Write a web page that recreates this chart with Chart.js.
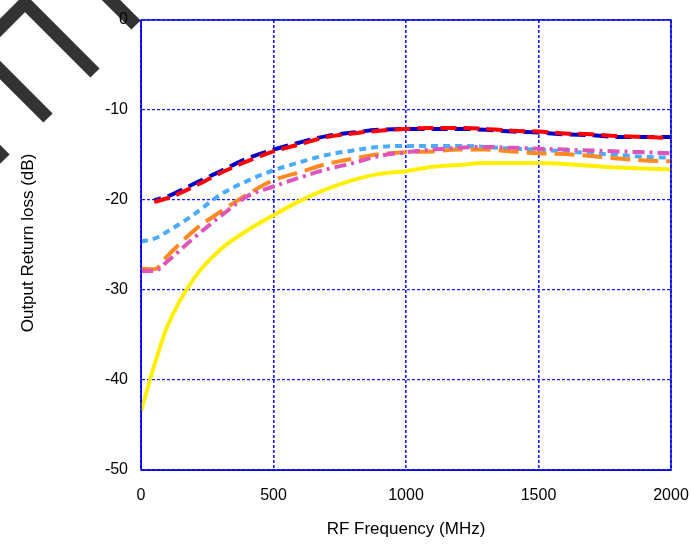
<!DOCTYPE html>
<html>
<head>
<meta charset="utf-8">
<script src="https://cdn.jsdelivr.net/npm/chart.js@4"></script>
<style>
  html, body { margin: 0; padding: 0; background: #fff; }
  #wrap { width: 691px; height: 549px; }
</style>
</head>
<body>
<div id="wrap"><canvas id="chart" width="691" height="549"></canvas></div>
<script>
// frequencies in MHz, values in dB
const freqs = [0, 50, 100, 200, 300, 400, 500, 600, 700, 800, 900, 1000, 1100, 1200, 1300, 1400, 1500, 1600, 1700, 1800, 1900, 2000];
const blueVals = [null, -20.0, -19.6, -18.2, -16.8, -15.4, -14.4, -13.6, -12.9, -12.5, -12.2, -12.1, -12.1, -12.1, -12.2, -12.4, -12.5, -12.7, -12.8, -13.0, -13.0, -13.0];
const redVals = [null, -20.2, -19.8, -18.5, -17.0, -15.7, -14.6, -13.8, -13.0, -12.6, -12.3, -12.1, -12.0, -12.0, -12.1, -12.3, -12.4, -12.6, -12.7, -12.9, -13.0, -13.1];
const skyVals = [-24.6, -24.3, -23.5, -21.6, -19.4, -17.9, -16.7, -15.8, -15.0, -14.5, -14.1, -14.0, -14.0, -14.0, -14.1, -14.3, -14.4, -14.6, -14.8, -15.0, -15.2, -15.3];
const orangeVals = [-27.6, -27.7, -26.2, -23.4, -21.3, -19.4, -17.8, -16.9, -16.0, -15.4, -14.9, -14.7, -14.6, -14.4, -14.4, -14.6, -14.8, -14.9, -15.1, -15.4, -15.6, -15.7];
const pinkVals = [-27.9, -27.9, -26.8, -24.2, -21.8, -19.6, -18.5, -17.5, -16.6, -15.9, -15.1, -14.7, -14.4, -14.2, -14.1, -14.2, -14.3, -14.4, -14.5, -14.6, -14.7, -14.8];
const yellowVals = [-43.5, -38.4, -34.0, -28.7, -25.5, -23.4, -21.7, -20.1, -18.8, -17.8, -17.1, -16.8, -16.3, -16.1, -15.9, -15.9, -15.9, -16.0, -16.2, -16.4, -16.5, -16.6];
const xTicks = [0, 500, 1000, 1500, 2000];
const yTicks = [-50, -40, -30, -20, -10, 0];

const gridBlue = '#1a1aff';
const fontFam = '"Liberation Sans", Arial, sans-serif';

function pts(vals) {
    return freqs.map((f, i) => ({ x: f, y: vals[i] }));
}

function series(vals, color, dash, offset) {
    return {
        data: pts(vals),
        borderColor: color,
        borderWidth: 4,
        borderDash: dash,
        borderDashOffset: offset || 0,
        borderCapStyle: 'butt',
        pointRadius: 0,
        fill: false,
        cubicInterpolationMode: 'monotone'
    };
}

// dark diagonal strokes in the top left corner of the picture
const cornerMarks = {
    id: 'cornerMarks',
    beforeDraw(chart) {
        const ctx = chart.ctx;
        ctx.save();
        ctx.strokeStyle = '#333333';
        ctx.lineWidth = 13;
        ctx.lineCap = 'butt';
        ctx.lineJoin = 'miter';
        ctx.beginPath();
        ctx.moveTo(-12, 40);
        ctx.lineTo(25, 3);
        ctx.lineTo(95, 73);
        ctx.moveTo(-12, 58);
        ctx.lineTo(48, 118);
        ctx.moveTo(-12, 142);
        ctx.lineTo(5, 159);
        ctx.moveTo(100, -11);
        ctx.lineTo(136, 25);
        ctx.stroke();
        ctx.restore();
    }
};

// solid frame round the plot area and the axis titles
const frame = {
    id: 'frame',
    afterDraw(chart) {
        const ctx = chart.ctx;
        const a = chart.chartArea;
        ctx.save();
        ctx.strokeStyle = '#0000ee';
        ctx.lineWidth = 1.5;
        ctx.strokeRect(a.left, a.top, a.right - a.left, a.bottom - a.top);
        ctx.fillStyle = '#000';
        ctx.font = '17px ' + fontFam;
        ctx.textAlign = 'center';
        ctx.textBaseline = 'middle';
        ctx.fillText('RF Frequency (MHz)', (a.left + a.right) / 2, 529);
        ctx.translate(28, (a.top + a.bottom) / 2 - 2);
        ctx.rotate(-Math.PI / 2);
        ctx.fillText('Output Return loss (dB)', 0, 0);
        ctx.restore();
    }
};

new Chart(document.getElementById('chart').getContext('2d'), {
    type: 'line',
    data: {
        datasets: [
            series(redVals, '#ff0000', [16, 7], 0),
            series(blueVals, '#0000cc', [16, 7], 9),
            series(pinkVals, '#dd55bb', [12, 5, 3, 5], 0),
            series(orangeVals, '#ff8a22', [20, 8], 0),
            series(skyVals, '#4aacff', [7, 5], 0),
            series(yellowVals, '#fff000', [], 0)
        ]
    },
    options: {
        responsive: false,
        animation: false,
        layout: { padding: { top: 20, right: 20, left: 0, bottom: 0 } },
        plugins: { legend: { display: false }, tooltip: { enabled: false } },
        scales: {
            x: {
                type: 'linear',
                min: 0,
                max: 2000,
                afterFit: (s) => { s.height = 79; s.paddingRight = 0; s.paddingLeft = 0; },
                afterBuildTicks: (s) => { s.ticks = xTicks.map(v => ({ value: v })); },
                ticks: { color: '#000', font: { size: 16, family: fontFam }, padding: 16, maxRotation: 0, callback: (v) => String(v) },
                grid: { color: gridBlue, lineWidth: 1.6, drawTicks: false },
                border: { display: true, color: gridBlue, width: 1, dash: [3, 2] }
            },
            y: {
                min: -50,
                max: 0,
                afterFit: (s) => { s.width = 141; s.paddingTop = 0; s.paddingBottom = 0; },
                afterBuildTicks: (s) => { s.ticks = yTicks.map(v => ({ value: v })); },
                ticks: { color: '#000', font: { size: 16, family: fontFam }, padding: 13, callback: (v) => String(v) },
                grid: { color: gridBlue, lineWidth: 1.2, drawTicks: false },
                border: { display: true, color: gridBlue, width: 1, dash: [3, 2] }
            }
        }
    },
    plugins: [cornerMarks, frame]
});
</script>
</body>
</html>
